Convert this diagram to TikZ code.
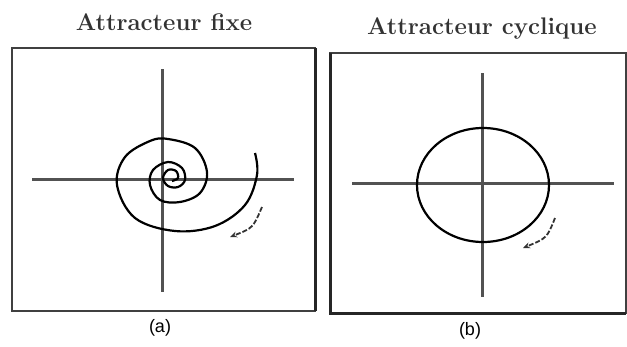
\documentclass[tikz,border=0pt]{standalone}
\usepackage{fontspec}
\newfontfamily\capfont{Liberation Sans}
\usetikzlibrary{arrows.meta}
\tikzset{
  frame/.style={draw=black!75, line width=2pt},
  thick frame/.style={draw=black!85, line width=3pt},
  axis line/.style={draw=black!68, line width=3pt},
  traj/.style={draw=black, line width=2.2pt},
  flow arrow/.style={-{Stealth[length=7pt,width=6pt]}, draw=black!80, line width=1.8pt, dash pattern=on 5pt off 2pt},
  title/.style={font=\fontsize{24}{27}\selectfont\bfseries, text=black!80},
  caption/.style={font=\capfont\fontsize{18}{20}\selectfont},
}
\begin{document}
\begin{tikzpicture}[x=1pt,y=-1pt]
  \useasboundingbox (0,0) rectangle (627,346);

  % titles and captions
  \node[title] (titleA) at (164,22) {Attracteur fixe};
  \node[title] (titleB) at (482,28) {Attracteur cyclique};
  \node[caption] (capA) at (160,328) {(a)};
  \node[caption] (capB) at (470,331) {(b)};

  % frames
  \draw[frame] (12,48) rectangle (315,311);
  \draw[thick frame] (315,48) -- (315,311);
  \draw[frame] (330,53) rectangle (626,313);
  \draw[thick frame] (330,53) -- (330,313) -- (626,313);

  % (a) fixed point: axes and spiral
  \draw[axis line] (32,179) -- (294,179);
  \draw[axis line] (162,69) -- (162,292);
  \draw[traj] plot[smooth, tension=0.6] coordinates {
    (255,153) (257,175) (245,205) (215,226) (175,231) (135,218)
    (117,185) (125,157) (150,141) (168,139) (195,148) (207,172)
    (200,193) (180,202) (160,200) (150,185) (153,170) (168,162)
    (182,168) (185,180) (178,187) (168,186) (163,178) (168,170)
    (176,171) (178,178) (172,181)};
  \draw[flow arrow] (262,207) .. controls (253,228) .. (230,237);

  % (b) limit cycle: axes and closed orbit
  \draw[axis line] (352,183) -- (614,183);
  \draw[axis line] (482,73) -- (482,297);
  \draw[traj] (483,185) ellipse [x radius=66, y radius=57];
  \draw[flow arrow] (555,218) .. controls (547,238) .. (523,248);

\end{tikzpicture}
\end{document}
